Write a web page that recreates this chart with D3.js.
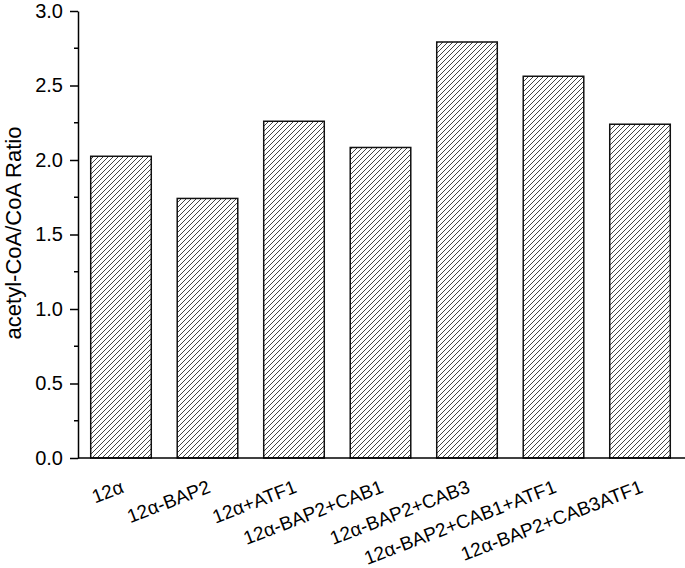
<!DOCTYPE html>
<html>
<head>
<meta charset="utf-8">
<script src="https://cdn.jsdelivr.net/npm/d3@7"></script>
<style>
  body { margin: 0; background: #fff; }
  text { font-family: "Liberation Sans", Arial, sans-serif; }
</style>
</head>
<body>
<svg width="685" height="568"></svg>
<script>
const categories = ['12α', '12α-BAP2', '12α+ATF1', '12α-BAP2+CAB1', '12α-BAP2+CAB3', '12α-BAP2+CAB1+ATF1', '12α-BAP2+CAB3ATF1']
const ratios = [2.025, 1.742, 2.26, 2.084, 2.792, 2.562, 2.24]
const majorTicks = [0, 0.5, 1.0, 1.5, 2.0, 2.5, 3.0]
const minorTicks = [0.25, 0.75, 1.25, 1.75, 2.25, 2.75]

const svg = d3.select('svg')
const margin = {top: 11, left: 78, bottom: 110}
const x0 = 78, x1 = 683

const x = d3.scaleBand()
  .domain(categories)
  .range([x0, x1])
  .paddingInner(0.3)
  .paddingOuter(0.147)

const y = d3.scaleLinear()
  .domain([0, 3])
  .range([458, margin.top])

// hatch
const pat = svg.append('defs').append('pattern')
  .attr('id', 'hatch')
  .attr('patternUnits', 'userSpaceOnUse')
  .attr('width', 5)
  .attr('height', 5)
pat.append('path')
  .attr('d', 'M-1,1 l2,-2 M0,5 l5,-5 M4,6 l2,-2')
  .attr('stroke', '#444')
  .attr('stroke-width', 1)

svg.append('g')
  .selectAll('rect')
  .data(categories)
  .join('rect')
  .attr('x', d => x(d))
  .attr('y', (d, i) => y(ratios[i]))
  .attr('width', x.bandwidth())
  .attr('height', (d, i) => y(0) - y(ratios[i]))
  .attr('fill', 'url(#hatch)')
  .attr('stroke', '#111')
  .attr('stroke-width', 1.5)

// y axis
const yAxis = svg.append('g')
  .attr('transform', `translate(${x0},0)`)
  .call(d3.axisLeft(y).tickValues(majorTicks).tickFormat(d3.format('.1f')).tickSize(8).tickPadding(7).tickSizeOuter(0))
yAxis.selectAll('text').attr('font-size', 20).attr('fill', '#000').style('font-family', '"Liberation Sans", Arial, sans-serif')
yAxis.selectAll('line, path').attr('stroke', '#000').attr('stroke-width', 1.5)

svg.append('g')
  .attr('transform', `translate(${x0},0)`)
  .selectAll('line')
  .data(minorTicks)
  .join('line')
  .attr('x1', -4).attr('x2', 0)
  .attr('y1', d => y(d)).attr('y2', d => y(d))
  .attr('stroke', '#000').attr('stroke-width', 1.5)

// x axis line
svg.append('line')
  .attr('x1', x0).attr('x2', 685)
  .attr('y1', y(0)).attr('y2', y(0))
  .attr('stroke', '#000').attr('stroke-width', 1.5)

// x labels
svg.append('g')
  .selectAll('text')
  .data(categories)
  .join('text')
  .attr('transform', d => `translate(${x(d) + x.bandwidth() / 2 + 4},492) rotate(-21)`)
  .attr('text-anchor', 'end')
  .attr('font-size', 19)
  .text(d => d)

svg.append('text')
  .attr('transform', 'translate(21,233) rotate(-90)')
  .attr('text-anchor', 'middle')
  .attr('font-size', 22)
  .text('acetyl-CoA/CoA Ratio')
</script>
</body>
</html>
